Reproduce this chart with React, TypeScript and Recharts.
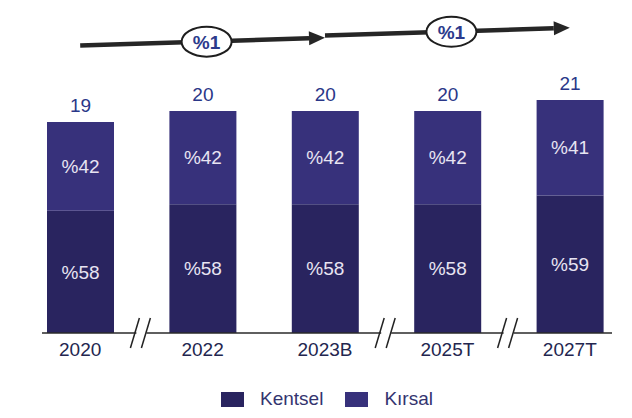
import React from "react"
import {
  BarChart,
  Bar,
  XAxis,
  YAxis,
  LabelList,
  ReferenceLine,
  ReferenceDot,
  Legend,
} from "recharts"

const years = ["2020", "2022", "2023B", "2025T", "2027T"]
const totals = [19, 20, 20, 20, 21]
const kentselShare = [58, 58, 58, 58, 59]
const kirsalShare = [42, 42, 42, 42, 41]
// categories that have an axis break drawn before them
const breakBefore = ["2022", "2025T", "2027T"]
const growthLabels = ["%1", "%1"]

const data = years.map((year, i) => ({
  year,
  total: totals[i],
  kentselPct: kentselShare[i],
  kirsalPct: kirsalShare[i],
  kentsel: (totals[i] * kentselShare[i]) / 100,
  kirsal: (totals[i] * kirsalShare[i]) / 100,
}))

const W = 632
const H = 418
const margin = { top: 0, right: 20, bottom: 9, left: 42 }
const pad = { left: -23, right: -19 }
const step = (W - margin.left - margin.right - pad.left - pad.right) / years.length

const KENTSEL = "#29245f"
const KIRSAL = "#37317b"
const FONT = "'Liberation Sans', Arial, sans-serif"

// growth arrows above the bars
const arrows = [
  { from: "2020", to: "2023B", mid: "2022", y1: 25.9, y2: 26.6, label: growthLabels[0] },
  { from: "2023B", to: "2027T", mid: "2025T", y1: 26.8, y2: 27.5, label: growthLabels[1] },
]

const Arrow = (props: any) => {
  const { x1, y1, x2, y2 } = props
  const ang = Math.atan2(y2 - y1, x2 - x1)
  const len = 16
  const hw = 7
  const bx = x2 - len * Math.cos(ang)
  const by = y2 - len * Math.sin(ang)
  const px = -Math.sin(ang) * hw
  const py = Math.cos(ang) * hw
  return (
    <g>
      <line x1={x1} y1={y1} x2={bx} y2={by} stroke="#262626" strokeWidth={4.5} />
      <polygon
        points={`${x2},${y2} ${bx + px},${by + py} ${bx - px},${by - py}`}
        fill="#262626"
      />
    </g>
  )
}

const makeBubble = (label: string) => (props: any) => {
  const { cx, cy } = props
  return (
    <g>
      <ellipse cx={cx + 4} cy={cy} rx={25} ry={15} fill="#fff" stroke="#1e1e1e" strokeWidth={2} />
      <text
        x={cx + 4}
        y={cy + 7}
        textAnchor="middle"
        fontFamily={FONT}
        fontSize={19}
        fontWeight="bold"
        fill="#2c3a8c"
      >
        {label}
      </text>
    </g>
  )
}

const BreakMark = (props: any) => {
  const { cx, cy } = props
  const x = cx - step / 2
  return (
    <g>
      <rect x={x - 5} y={cy - 2} width={10} height={4} fill="#fff" />
      <line x1={x - 11} y1={cy + 15} x2={x - 2} y2={cy - 15} stroke="#222" strokeWidth={1.5} />
      <line x1={x} y1={cy + 15} x2={x + 9} y2={cy - 15} stroke="#222" strokeWidth={1.5} />
    </g>
  )
}

const pctLabel = (v: any) => `%${v}`

const LegendContent = () => (
  <div
    style={{
      display: "flex",
      justifyContent: "center",
      alignItems: "center",
      fontFamily: FONT,
      fontSize: 19,
      color: "#34346f",
      height: 20,
    }}
  >
    {[
      { name: "Kentsel", color: KENTSEL },
      { name: "Kırsal", color: KIRSAL },
    ].map((it) => (
      <span key={it.name} style={{ display: "flex", alignItems: "center", margin: "0 11px" }}>
        <span style={{ width: 23, height: 15, background: it.color, marginRight: 16 }} />
        {it.name}
      </span>
    ))}
  </div>
)

export default function App() {
  return (
    <div style={{ position: "absolute", left: 0, top: 0, width: W, height: H, background: "#fff" }}>
      <BarChart width={W} height={H} data={data} margin={margin}>
        <XAxis
          dataKey="year"
          height={56}
          padding={pad}
          tickLine={false}
          tickMargin={4}
          axisLine={{ stroke: "#2a2a2a", strokeWidth: 1.5 }}
          tick={{ fill: "#23264f", fontSize: 19, fontFamily: FONT }}
          interval={0}
        />
        <YAxis hide domain={[0, 30]} />
        <Legend verticalAlign="bottom" content={<LegendContent />} />
        <Bar dataKey="kentsel" stackId="a" fill={KENTSEL} barSize={67} isAnimationActive={false}>
          <LabelList
            dataKey="kentselPct"
            position="center"
            formatter={pctLabel}
            fill="#e8e4f2"
            fontSize={19}
            fontFamily={FONT}
          />
        </Bar>
        <Bar dataKey="kirsal" stackId="a" fill={KIRSAL} barSize={67} isAnimationActive={false}>
          <LabelList
            dataKey="kirsalPct"
            position="center"
            formatter={pctLabel}
            fill="#e8e4f2"
            fontSize={19}
            fontFamily={FONT}
          />
          <LabelList
            dataKey="total"
            position="top"
            offset={10}
            fill="#2a3788"
            fontSize={19}
            fontFamily={FONT}
          />
        </Bar>
        {arrows.map((a) => (
          <ReferenceLine
            key={a.from}
            segment={[
              { x: a.from, y: a.y1 },
              { x: a.to, y: a.y2 },
            ]}
            shape={<Arrow />}
          />
        ))}
        {arrows.map((a) => (
          <ReferenceDot
            key={a.mid}
            x={a.mid}
            y={(a.y1 + a.y2) / 2}
            r={1}
            shape={makeBubble(a.label)}
          />
        ))}
        {breakBefore.map((y) => (
          <ReferenceDot key={y} x={y} y={0} r={1} shape={<BreakMark />} />
        ))}
      </BarChart>
    </div>
  )
}
